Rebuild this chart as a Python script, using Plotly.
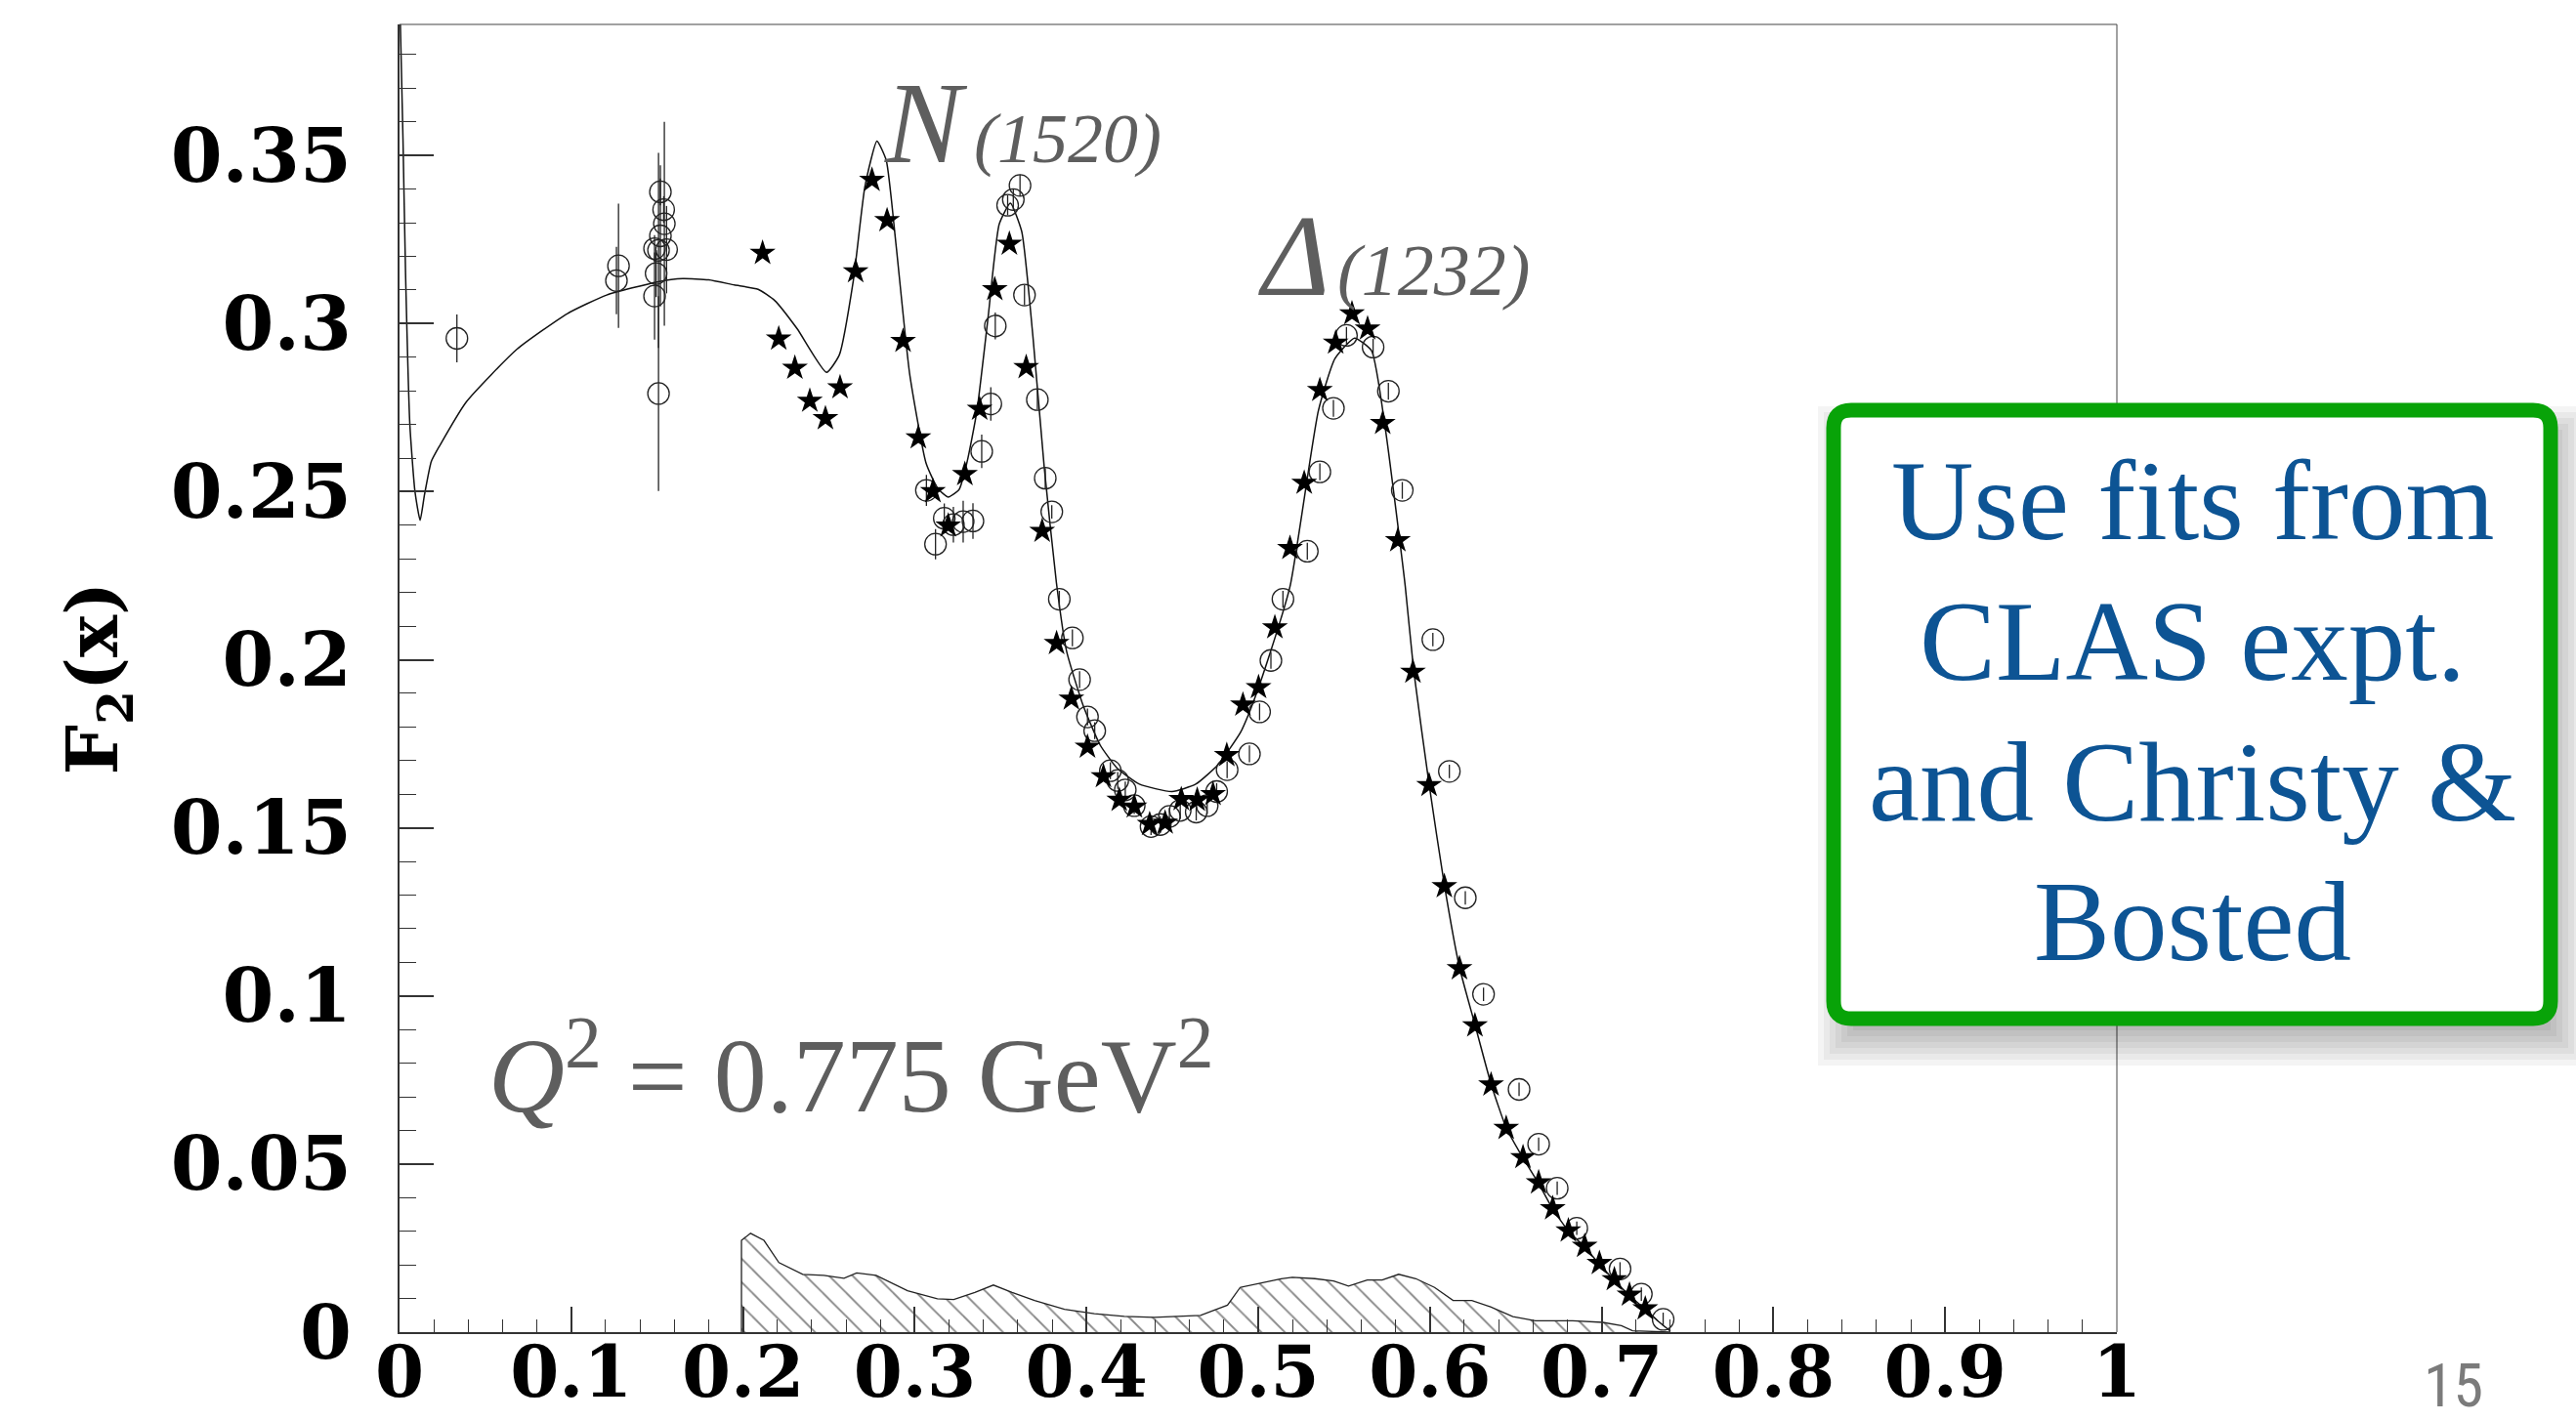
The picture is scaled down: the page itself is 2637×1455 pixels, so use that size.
import plotly.graph_objects as go

# ---------------- data ----------------
# fitted structure function curve
fit_x = [0.0000, 0.0020, 0.0035, 0.0060, 0.0090, 0.0120, 0.0145, 0.0185, 0.0234, 0.0390,
         0.0684, 0.0978, 0.1206, 0.1500, 0.1650, 0.1800, 0.1950, 0.2088, 0.2184, 0.2315,
         0.2486, 0.2561, 0.2643, 0.2710, 0.2780, 0.2834, 0.2890, 0.2970, 0.3066, 0.3135,
         0.3195, 0.3258, 0.3305, 0.3362, 0.3427, 0.3492, 0.3557, 0.3623, 0.3688, 0.3754,
         0.3825, 0.3884, 0.3982, 0.4080, 0.4178, 0.4308, 0.4498, 0.4636, 0.4766, 0.4897,
         0.4955, 0.5050, 0.5186, 0.5350, 0.5447, 0.5561, 0.5660, 0.5741, 0.5856, 0.5905,
         0.5995, 0.6084, 0.6172, 0.6262, 0.6356, 0.6444, 0.6542, 0.6633, 0.6715, 0.6806,
         0.6901, 0.6987, 0.7074, 0.7162, 0.7254, 0.7330, 0.7400]
fit_y = [0.4000, 0.3550, 0.3150, 0.2700, 0.2500, 0.2415, 0.2490, 0.2590, 0.2637, 0.2768,
         0.2924, 0.3030, 0.3085, 0.3124, 0.3134, 0.3130, 0.3115, 0.3102, 0.3069, 0.2985,
         0.2855, 0.2907, 0.3130, 0.3408, 0.3543, 0.3486, 0.3240, 0.2852, 0.2585, 0.2509,
         0.2484, 0.2506, 0.2589, 0.2740, 0.3018, 0.3296, 0.3358, 0.3274, 0.2963, 0.2573,
         0.2229, 0.2026, 0.1862, 0.1746, 0.1678, 0.1630, 0.1608, 0.1630, 0.1688, 0.1784,
         0.1852, 0.1990, 0.2220, 0.2740, 0.2896, 0.2957, 0.2919, 0.2685, 0.2220, 0.1970,
         0.1630, 0.1330, 0.1085, 0.0915, 0.0738, 0.0608, 0.0518, 0.0442, 0.0366, 0.0301,
         0.0253, 0.0202, 0.0154, 0.0109, 0.0068, 0.0032, 0.0003]

# CLAS data (stars)
star_x = [0.2114, 0.2208, 0.2302, 0.2389, 0.2480, 0.2565, 0.2656, 0.2751, 0.2839, 0.2932,
          0.3021, 0.3106, 0.3195, 0.3292, 0.3378, 0.3466, 0.3551, 0.3649, 0.3742, 0.3826,
          0.3912, 0.4006, 0.4099, 0.4191, 0.4279, 0.4368, 0.4458, 0.4552, 0.4645, 0.4737,
          0.4817, 0.4911, 0.5002, 0.5097, 0.5185, 0.5268, 0.5359, 0.5451, 0.5546, 0.5637,
          0.5725, 0.5813, 0.5901, 0.5995, 0.6084, 0.6172, 0.6262, 0.6356, 0.6444, 0.6542,
          0.6633, 0.6715, 0.6806, 0.6901, 0.6987, 0.7074, 0.7162, 0.7254]
star_y = [0.3210, 0.2955, 0.2868, 0.2770, 0.2718, 0.2810, 0.3155, 0.3427, 0.3307, 0.2948,
          0.2661, 0.2501, 0.2399, 0.2552, 0.2746, 0.3102, 0.3237, 0.2870, 0.2383, 0.2049,
          0.1884, 0.1741, 0.1653, 0.1583, 0.1563, 0.1511, 0.1515, 0.1585, 0.1583, 0.1600,
          0.1716, 0.1866, 0.1918, 0.2096, 0.2332, 0.2526, 0.2802, 0.2943, 0.3030, 0.2985,
          0.2704, 0.2355, 0.1964, 0.1627, 0.1326, 0.1082, 0.0912, 0.0736, 0.0607, 0.0520,
          0.0445, 0.0368, 0.0302, 0.0256, 0.0205, 0.0157, 0.0111, 0.0070]

# world data (open circles with errors)
circ_x = [0.0334, 0.1275, 0.1263, 0.1519, 0.1538, 0.1542, 0.1519, 0.1485, 0.1508, 0.1555,
          0.1494, 0.1485, 0.1508, 0.3068, 0.3121, 0.3172, 0.3225, 0.3282, 0.3339, 0.3390,
          0.3443, 0.3469, 0.3541, 0.3574, 0.3613, 0.3639, 0.3714, 0.3760, 0.3798, 0.3842,
          0.3918, 0.3960, 0.4006, 0.4048, 0.4139, 0.4182, 0.4226, 0.4278, 0.4376, 0.4430,
          0.4483, 0.4546, 0.4639, 0.4703, 0.4758, 0.4819, 0.4949, 0.5008, 0.5074, 0.5144,
          0.5286, 0.5359, 0.5438, 0.5514, 0.5669, 0.5758, 0.5839, 0.6017, 0.6113, 0.6206,
          0.6312, 0.6519, 0.6633, 0.6741, 0.6855, 0.7107, 0.7231, 0.7358]
circ_y = [0.2956, 0.3172, 0.3128, 0.3392, 0.3339, 0.3297, 0.3261, 0.3223, 0.3218, 0.3220,
          0.3149, 0.3082, 0.2792, 0.2504, 0.2344, 0.2421, 0.2402, 0.2411, 0.2413, 0.2620,
          0.2761, 0.2993, 0.3352, 0.3369, 0.3411, 0.3085, 0.2774, 0.2540, 0.2440, 0.2180,
          0.2065, 0.1941, 0.1830, 0.1789, 0.1670, 0.1641, 0.1613, 0.1566, 0.1504, 0.1510,
          0.1534, 0.1552, 0.1547, 0.1566, 0.1608, 0.1673, 0.1720, 0.1845, 0.1998, 0.2180,
          0.2323, 0.2559, 0.2748, 0.2965, 0.2930, 0.2799, 0.2504, 0.2060, 0.1668, 0.1292,
          0.1005, 0.0722, 0.0559, 0.0428, 0.0309, 0.0188, 0.0113, 0.0038]
circ_err = [0.0071, 0.0185, 0.0100, 0.0040, 0.0040, 0.0303, 0.0210, 0.0040, 0.0290, 0.0130,
            0.0070, 0.0130, 0.0290, 0.0046, 0.0045, 0.0044, 0.0053, 0.0062, 0.0053, 0.0050,
            0.0050, 0.0040, 0.0030, 0.0030, 0.0032, 0.0030, 0.0030, 0.0030, 0.0020, 0.0025,
            0.0025, 0.0025, 0.0025, 0.0025, 0.0025, 0.0025, 0.0025, 0.0025, 0.0025, 0.0025,
            0.0025, 0.0025, 0.0025, 0.0025, 0.0025, 0.0025, 0.0025, 0.0025, 0.0025, 0.0025,
            0.0025, 0.0025, 0.0025, 0.0025, 0.0025, 0.0025, 0.0025, 0.0020, 0.0020, 0.0020,
            0.0020, 0.0020, 0.0020, 0.0020, 0.0020, 0.0020, 0.0020, 0.0020]

# systematic uncertainty band
band_x = [0.1991, 0.1991, 0.2044, 0.2122, 0.2209, 0.2348, 0.2470, 0.2588, 0.2662, 0.2775,
          0.2958, 0.3132, 0.3227, 0.3350, 0.3458, 0.3567, 0.3698, 0.3872, 0.4046, 0.4220,
          0.4394, 0.4568, 0.4664, 0.4742, 0.4821, 0.4895, 0.5004, 0.5134, 0.5199, 0.5330,
          0.5439, 0.5526, 0.5635, 0.5722, 0.5818, 0.5918, 0.6027, 0.6135, 0.6244, 0.6353,
          0.6483, 0.6614, 0.6831, 0.7006, 0.7115, 0.7180, 0.7397]
band_y = [0.0000, 0.0273, 0.0294, 0.0273, 0.0207, 0.0172, 0.0169, 0.0160, 0.0176, 0.0169,
          0.0123, 0.0099, 0.0097, 0.0118, 0.0140, 0.0118, 0.0094, 0.0068, 0.0055, 0.0047,
          0.0044, 0.0048, 0.0050, 0.0065, 0.0080, 0.0133, 0.0145, 0.0159, 0.0163, 0.0159,
          0.0152, 0.0137, 0.0155, 0.0155, 0.0172, 0.0159, 0.0133, 0.0094, 0.0094, 0.0075,
          0.0046, 0.0034, 0.0034, 0.0029, 0.0019, 0.0004, 0.0000]

x_tickvals = [0, 0.1, 0.2, 0.3, 0.4, 0.5, 0.6, 0.7, 0.8, 0.9, 1.0]
x_ticktext = ["0", "0.1", "0.2", "0.3", "0.4", "0.5", "0.6", "0.7", "0.8", "0.9", "1"]
y_tickvals = [0, 0.05, 0.10, 0.15, 0.20, 0.25, 0.30, 0.35]
y_ticktext = ["0", "0.05", "0.1", "0.15", "0.2", "0.25", "0.3", "0.35"]

note_lines = ["Use fits from", "CLAS expt.", "and Christy &amp;", "Bosted"]

# ---------------- page geometry ----------------
FIG_W, FIG_H = 2637, 1455
PLOT_L, PLOT_T, PLOT_W, PLOT_H = 409, 25, 1758, 1339
PLOT_B = PLOT_T + PLOT_H


def px_x(px):
    return (px - PLOT_L) / PLOT_W


def px_y(py):
    return (PLOT_B - py) / PLOT_H


def baseline_center(baseline_px, size, asc=0.891, desc=0.216):
    return baseline_px - (asc - desc) / 2 * size


GRAY_TXT = "#5e5e5e"
SERIF = "Liberation Serif, Times New Roman, serif"
BOLD_SERIF = "DejaVu Serif, serif"

fig = go.Figure()

fig.add_trace(go.Scatter(
    x=band_x, y=band_y, mode="lines", fill="tozeroy",
    line=dict(color="#222222", width=1.3),
    fillcolor="rgba(0,0,0,0)",
    fillpattern=dict(shape="\\", fgcolor="#111111", bgcolor="rgba(0,0,0,0)",
                     size=17, solidity=0.11),
    hoverinfo="skip", showlegend=False))

fig.add_trace(go.Scatter(
    x=fit_x, y=fit_y, mode="lines",
    line=dict(color="#111111", width=1.5, shape="spline", smoothing=0.5),
    showlegend=False))

fig.add_trace(go.Scatter(
    x=circ_x, y=circ_y, mode="markers",
    marker=dict(symbol="circle-open", size=22, color="#222222", line=dict(width=1.3)),
    error_y=dict(type="data", array=circ_err, visible=True, width=0,
                 thickness=1.3, color="#222222"),
    showlegend=False))

fig.add_trace(go.Scatter(
    x=star_x, y=star_y, mode="markers",
    marker=dict(symbol="star", size=20, color="black", line=dict(width=0)),
    showlegend=False))

# ---------------- decorations ----------------
shapes = [
    dict(type="line", xref="paper", yref="paper", x0=0, y0=1, x1=1, y1=1,
         line=dict(color="#444444", width=1)),
    dict(type="line", xref="paper", yref="paper", x0=1, y0=0, x1=1, y1=1,
         line=dict(color="#444444", width=1)),
]

# soft drop shadow under the note box
bx0, bx1, by0, by1 = 1877, 2611, 420, 1043
sdx, sdy = 10, 22
for k in range(9):
    g = 26 - 6 * k
    shapes.append(dict(type="rect", xref="paper", yref="paper", layer="above",
                       x0=px_x(bx0 + sdx - g), x1=px_x(bx1 + sdx + g),
                       y0=px_y(by1 + sdy + g), y1=px_y(by0 + sdy - g),
                       line=dict(width=0), fillcolor="rgba(0,0,0,0.045)"))

r = 18
rx, ry = r / PLOT_W, r / PLOT_H
X0, X1, Y0, Y1 = px_x(bx0), px_x(bx1), px_y(by0), px_y(by1)
box_path = (f"M {X0+rx},{Y0} L {X1-rx},{Y0} Q {X1},{Y0} {X1},{Y0-ry} "
            f"L {X1},{Y1+ry} Q {X1},{Y1} {X1-rx},{Y1} "
            f"L {X0+rx},{Y1} Q {X0},{Y1} {X0},{Y1+ry} "
            f"L {X0},{Y0-ry} Q {X0},{Y0} {X0+rx},{Y0} Z")
shapes.append(dict(type="path", xref="paper", yref="paper", path=box_path,
                   fillcolor="white", line=dict(color="#08a308", width=15), layer="above"))

annotations = [
    dict(text="<i>N</i>", x=px_x(903), y=px_y(baseline_center(166, 118)),
         font=dict(family=SERIF, size=118, color=GRAY_TXT)),
    dict(text="<i>(1520)</i>", x=px_x(995), y=px_y(baseline_center(166, 72)),
         font=dict(family=SERIF, size=72, color=GRAY_TXT)),
    dict(text="<i>Δ</i>", x=px_x(1286), y=px_y(baseline_center(302, 118)),
         font=dict(family=SERIF, size=118, color=GRAY_TXT)),
    dict(text="<i>(1232)</i>", x=px_x(1367), y=px_y(baseline_center(302, 74)),
         font=dict(family=SERIF, size=74, color=GRAY_TXT)),
    dict(text="<i>Q</i><sup>2</sup> = 0.775 GeV<sup>2</sup>", x=px_x(498),
         y=px_y(baseline_center(1140, 108) - 10),
         font=dict(family=SERIF, size=108, color=GRAY_TXT)),
]
for a in annotations:
    a.update(xref="paper", yref="paper", xanchor="left", yanchor="middle",
             showarrow=False)

# note text, one line per annotation so the line pitch can be set freely
note_baselines = [552, 696, 840, 983]
for line_text, base in zip(note_lines, note_baselines):
    annotations.append(dict(
        text=line_text, xref="paper", yref="paper", x=px_x(2244),
        y=px_y(baseline_center(base, 117)),
        xanchor="center", yanchor="middle", showarrow=False,
        font=dict(family=SERIF, size=117, color="#0d5494")))

# slide page number
annotations.append(dict(
    text="15", xref="paper", yref="paper", x=px_x(2511),
    y=px_y(baseline_center(1440, 62, 0.905, 0.212)),
    xanchor="center", yanchor="middle", showarrow=False,
    font=dict(family="Liberation Sans Narrow, Roboto Condensed, Roboto, sans-serif",
              size=62, color="#7b7b7b")))

x_tick_font = dict(family=BOLD_SERIF, size=72, color="black", weight="bold")
y_tick_font = dict(family=BOLD_SERIF, size=76, color="black", weight="bold")

fig.update_layout(
    width=FIG_W, height=FIG_H,
    margin=dict(l=PLOT_L, r=FIG_W - PLOT_L - PLOT_W, t=PLOT_T, b=FIG_H - PLOT_B, pad=0),
    paper_bgcolor="white", plot_bgcolor="white",
    showlegend=False,
    shapes=shapes,
    annotations=annotations,
    xaxis=dict(range=[0, 1], tickvals=x_tickvals, ticktext=x_ticktext,
               ticks="inside", ticklen=26, tickwidth=1.5, tickcolor="#333333",
               minor=dict(dtick=0.02, tick0=0, ticks="inside", ticklen=13,
                          tickwidth=1.2, tickcolor="#333333"),
               showline=True, linewidth=2, linecolor="#333333",
               showgrid=False, zeroline=False, tickfont=x_tick_font,
               ticklabelstandoff=-22, automargin=False),
    yaxis=dict(range=[0, 0.389], tickvals=y_tickvals, ticktext=y_ticktext,
               ticks="inside", ticklen=35, tickwidth=1.5, tickcolor="#333333",
               minor=dict(dtick=0.01, tick0=0, ticks="inside", ticklen=17,
                          tickwidth=1.2, tickcolor="#333333"),
               showline=True, linewidth=2, linecolor="#333333",
               showgrid=False, zeroline=False, tickfont=y_tick_font,
               ticklabelstandoff=32, automargin=False,
               title=dict(text="<b>F<sub>2</sub>(x)</b>", standoff=30,
                          font=dict(family=BOLD_SERIF, size=72, color="black",
                                    weight="bold"))),
)

fig.write_html("out.html")
